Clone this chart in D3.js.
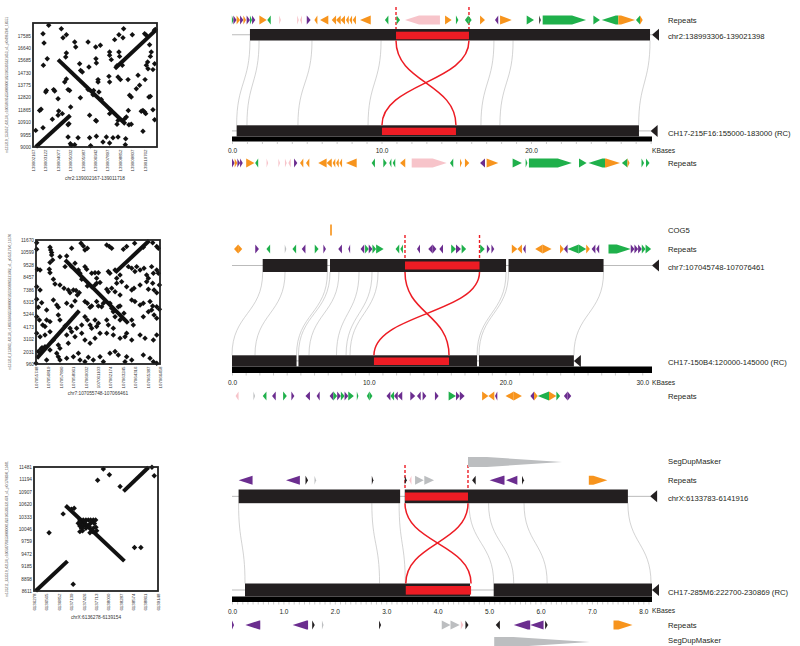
<!DOCTYPE html>
<html><head><meta charset="utf-8">
<script src="https://cdn.jsdelivr.net/npm/d3@7"></script>
<style>body{margin:0;background:#fff}svg{display:block}text{font-family:Arial,"Liberation Sans",sans-serif}</style>
</head><body>
<script>
// ---------------- DOT PLOT DATA ----------------
// plot 1 offsets in kb from axis start; plots 2,3 offsets in bp
const dp1XTicks=[139002167,139003122,139004077,139005032,139005987,139006942,139007897,139008852,139009807,139010762];
const dp1YTicks=[9000,9955,10910,11865,12820,13775,14730,15685,16640,17585];
const dp1Diag=[[0.21,0,2.88,2.44],[1.93,6.73,7.14,1.75],[6.29,6.03,9.50,9.04]];
const dp1Dots=[[1.21,9.37],[2.18,9.11],[0.77,8.73],[2.31,8.42],[2.57,8.65],[0.85,8.01],[3.21,8.09],[4.24,8.09],[3.29,7.70],[4.83,7.70],
[5.19,7.83],[5.90,7.32],[6.62,8.65],[6.29,8.27],[6.93,8.42],[6.98,9.11],[7.65,8.65],[8.60,8.73],[8.73,8.60],[8.98,7.88],
[9.11,7.32],[9.04,6.98],[9.24,5.96],[9.37,6.42],[8.83,6.55],[8.73,6.29],[8.86,6.03],[1.10,6.80],[0.80,6.29],[2.57,7.24],
[2.52,6.93],[3.59,6.42],[3.67,5.90],[3.80,5.78],[4.31,6.16],[4.85,6.80],[4.88,6.47],[5.90,7.06],[6.03,6.73],[6.62,7.32],
[6.67,6.98],[6.47,6.26],[6.88,6.29],[6.55,5.39],[6.73,5.19],[7.32,5.19],[8.09,5.52],[8.63,5.19],[8.21,4.75],[7.96,4.49],
[7.44,3.98],[7.57,3.85],[5.85,5.44],[5.90,5.01],[5.01,5.19],[5.01,5.01],[4.24,4.42],[4.67,4.36],[5.08,4.24],[4.62,4.03],
[5.26,3.65],[3.65,3.80],[2.70,4.42],[2.82,4.36],[2.44,5.01],[2.57,5.24],[1.93,3.72],[1.03,4.36],[0.98,4.24],[1.59,4.42],
[1.67,4.31],[0.62,2.90],[0.51,2.82],[1.49,2.13],[1.98,2.77],[1.93,2.44],[2.26,2.57],[2.90,3.08],[2.77,1.80],[2.70,1.72],
[4.36,2.44],[4.83,2.05],[4.88,2.00],[5.96,2.87],[5.90,2.57],[6.47,1.75],[6.55,2.05],[7.34,2.82],[7.19,2.31],[7.06,2.18],
[7.39,1.72],[8.47,2.82],[8.60,2.70],[8.68,2.57],[8.34,2.75],[8.93,3.85],[9.04,3.90],[9.24,2.87],[9.37,2.10],[8.47,1.21],
[0.77,1.49],[0.21,1.28],[2.70,0.77],[2.88,0.26],[3.21,0.18],[2.95,0.13],[3.47,0.72],[4.36,0.72],[4.44,0.10],[4.88,0.82],
[5.39,0.39],[5.65,0.77],[5.90,0.31],[6.16,0.72],[6.55,0.77],[7.14,0.64],[7.11,0.18],[7.57,1.75],[9.35,9.0],[9.42,9.05]];

const dp2XTicks=[107055748,107056819,107057890,107058961,107060032,107061103,107062174,107063245,107064316,107065387,107066458];
const dp2YTicks=[960,2031,3102,4173,5244,6315,7386,8457,9528,10599,11670];
const dp2Diag=[[60,490,3740,4610],[2510,8990,7980,3510],[6830,7890,9790,10660]];
const dp2Dots=[[60,9910],[60,10480],[1210,10080],[1270,9850],[1350,9620],[1350,9420],[1440,8990],[1210,8760],[2070,9270],[2650,9330],
[3080,9990],[3890,10430],[4090,10200],[4440,9990],[4230,9850],[6110,10280],[6340,10140],[6540,9990],[7550,9910],[7830,10140],
[8520,10430],[9270,10080],[10080,10480],[10430,10140],[10570,9990],
[120,8180],[350,8120],[1150,8180],[1210,7890],[1500,7320],[1640,6910],[2510,8410],[3080,8410],[3370,8700],[3660,8120],
[3800,7830],[3950,7320],[4230,8410],[4380,8180],[4810,7830],[5100,7890],[5390,7890],[5240,7400],[5530,7030],[6250,7980],
[6390,7830],[6830,8120],[6970,7400],[6970,6970],[7260,7690],[7400,7110],[7980,8410],[8270,8270],[8550,7980],[8700,8410],
[8990,8120],[9330,8270],[9560,7690],[9710,7400],[9990,8410],[10140,7830],[10430,8120],[10570,7830],
[60,6680],[350,6390],[2070,6830],[2420,6540],[2790,6390],[2940,6160],[3230,6390],[3460,6340],[3570,5960],[3740,6160],
[4440,6740],[4810,6680],[5100,6830],[5240,6970],[6110,6450],[6250,6250],[6540,6540],[6830,6250],[7260,5960],[7830,6680],
[8270,6390],[8470,6540],[8990,6830],[9560,7110],[9710,6450],[10080,6970],[10200,6390],[10430,6160],[10660,6830],
[60,5590],[200,4900],[490,5300],[920,4670],[1500,5530],[1790,5100],[1930,4900],[2650,5240],[3080,5010],[3370,5440],
[4230,5390],[4440,5240],[4670,4900],[4810,5010],[5240,5390],[5390,5010],[5670,4950],[5820,5240],[6390,5240],[6540,4810],
[6680,4520],[7110,4950],[7260,5010],[8270,5530],[8550,5390],[8990,5100],[9270,5240],[9850,5390],[10080,5010],[10430,4950],[10660,4720],
[60,4090],[290,3800],[580,3370],[920,3800],[780,3230],[1210,3660],[1930,4230],[2070,3800],[2510,3280],[2940,3080],
[3080,2790],[3510,3080],[3950,3370],[4230,4090],[4440,3800],[4670,3370],[4810,3080],[5100,3800],[5240,3230],[5390,3510],
[6110,3800],[6250,3370],[6680,3080],[6830,4090],[7260,3800],[7600,4380],[8270,3800],[8410,3370],[9270,4090],[9710,4520],
[9990,4670],[10200,4230],[10430,3950],
[60,2650],[350,2360],[780,2510],[1210,2790],[1500,2070],[1930,1640],[2070,1350],[2650,2510],[2790,1790],[3370,2360],
[3950,2650],[4230,2070],[4670,1790],[5100,2220],[5530,2650],[6110,2650],[6680,2510],[7260,2220],[7690,2360],[7830,2650],
[8270,2070],[8990,2510],[9420,2220],[10140,2070],[10430,2510],
[200,1070],[780,1500],[1210,1210],[1790,920],[1930,630],[2070,350],[2650,490],[3230,630],[3660,920],[3800,350],
[4230,200],[4520,580],[4950,350],[5530,630],[5820,200],[6390,920],[6830,1070],[7110,780],[7690,200],[7830,630],
[8270,350],[9270,780],[9850,490],[10140,200],[10430,60],[920,350],[0,60],[430,1300],[520,1400],[560,1350]];

const dp3XTicks=[6136278,6136565,6136852,6137139,6137426,6137713,6138000,6138287,6138574,6138861,6139148];
const dp3YTicks=[8611,8898,9185,9472,9759,10046,10333,10620,10907,11194,11481];
const dp3Diag=[[39,0,777,691],[730,1980,2098,691],[2075,2305,2657,2865]];
const dp3Dots=[[1608,2825],[1748,2693],[1476,2561],[1997,2421],[870,1893],[932,1917],[676,1785],[350,1350],[909,155],[2331,1009],[2479,1009],[2735,2863],[2789,2669],
[1064,1645],[1103,1568],[1142,1645],[1204,1645],[1259,1645],[1313,1645],[1375,1645],[1430,1645],[1064,1505],[1142,1505],[1220,1529],[1298,1552],
[1064,1374],[1127,1397],[1204,1451],[1282,1490],[1375,1451],[1437,1474],[1453,1397],[1360,1374],[1298,1350],[1103,1451],[1026,1568],[1064,1590],[1180,1600],[1340,1600],[1400,1560]];

// ---------------- TRACK DATA (kb) ----------------
const p1TopSeg=[[1.20,27.96]], p1BotSeg=[[0.31,27.22]];
const p1TopInv=[10.97,15.85], p1BotInv=[10.03,14.98];
const p1Links=[[1.20,0.31],[1.81,1.00],[5.35,4.41],[9.97,9.10],[17.52,16.65],[18.80,17.92],[27.96,27.20]];
const p1TopRep=[[0.00,0.09,1,'G'],[0.09,0.31,1,'P'],[0.31,0.54,1,'O'],[0.54,0.76,1,'P'],[0.76,0.94,1,'O'],[0.98,1.20,1,'P'],[1.20,1.34,1,'G'],[1.34,1.56,1,'P'],[1.83,2.32,1,'O'],[2.36,2.59,-1,'G'],[3.17,3.26,1,'K'],[4.37,4.46,1,'K'],[4.55,4.68,-1,'K'],[5.00,5.26,1,'P'],[5.51,5.71,-1,'O'],[5.89,6.44,-1,'O'],[6.67,6.96,-1,'O'],[6.96,7.27,-1,'O'],[7.27,7.56,-1,'O'],[7.62,7.81,-1,'O'],[7.85,8.03,-1,'O'],[8.07,8.29,-1,'O'],[8.56,9.28,-1,'O'],[10.23,10.46,-1,'G'],[11.01,11.24,1,'G'],[11.57,13.91,-1,'K'],[14.25,14.69,1,'O'],[14.98,15.14,1,'G'],[15.58,15.81,-1,'G'],[15.81,16.03,1,'G'],[16.59,16.92,1,'O'],[17.59,17.81,-1,'P'],[17.93,18.71,1,'O'],[19.71,20.20,1,'G'],[20.55,20.65,1,'B'],[20.78,23.68,1,'G'],[24.17,24.61,1,'G'],[24.73,25.84,-1,'G'],[25.84,26.96,1,'O'],[27.02,27.29,-1,'G'],[27.29,27.47,1,'O']];
const p1BotRep=[[0.00,0.18,1,'P'],[0.18,0.36,1,'O'],[0.36,0.54,1,'P'],[0.54,0.72,1,'P'],[0.95,1.50,1,'O'],[1.55,1.75,-1,'G'],[2.32,2.41,1,'K'],[3.10,3.21,1,'K'],[3.54,3.66,1,'K'],[3.77,3.93,-1,'K'],[4.15,4.37,1,'P'],[4.55,4.77,-1,'O'],[4.95,5.17,-1,'O'],[5.77,6.33,-1,'O'],[6.33,6.67,-1,'O'],[6.73,6.91,-1,'O'],[6.96,7.14,-1,'O'],[7.18,7.36,-1,'O'],[7.62,8.34,-1,'O'],[9.34,9.56,-1,'G'],[10.12,10.35,1,'G'],[10.52,10.66,-1,'G'],[10.75,10.92,-1,'G'],[11.24,11.59,-1,'O'],[12.02,14.36,1,'K'],[14.58,14.80,-1,'G'],[15.25,15.38,1,'O'],[15.58,15.87,1,'O'],[16.59,16.92,-1,'P'],[17.03,17.81,1,'O'],[18.77,19.39,1,'G'],[19.64,19.76,1,'G'],[19.86,22.73,1,'G'],[23.21,23.72,1,'G'],[23.84,24.95,-1,'G'],[24.95,25.95,1,'O'],[26.08,26.45,-1,'G'],[26.45,26.59,1,'O'],[27.39,27.56,1,'G'],[27.69,27.93,1,'G']];

const p2TopSeg=[[2.245,6.976],[7.166,20.04],[20.22,27.17]], p2BotSeg=[[0,4.72],[4.86,17.92],[18.06,25.0]];
const p2TopInv=[12.65,18.10], p2BotInv=[10.38,15.87];
const p2Links=[[2.245,0],[3.88,1.68],[6.976,4.72],[7.166,4.86],[7.82,5.63],[9.29,7.64],[10.24,8.34],[10.68,8.63],[20.04,17.92],[20.22,18.06],[27.17,25.0]];
const p2Genes=[[7.18,7.30,1,'O']];
const p2TopRep=[[0.15,0.45,-1,'O'],[0.45,0.75,1,'O'],[1.70,1.97,1,'P'],[2.52,2.79,-1,'G'],[3.88,3.95,1,'Y'],[4.42,4.69,-1,'G'],[5.10,5.37,-1,'P'],[6.05,6.33,1,'G'],[6.68,6.87,1,'P'],[7.77,8.04,-1,'P'],[8.50,8.64,-1,'P'],[9.40,9.67,-1,'P'],[9.73,10.00,1,'G'],[10.00,10.27,1,'P'],[10.27,10.54,1,'G'],[10.54,11.09,1,'G'],[11.96,12.23,-1,'G'],[12.31,12.50,-1,'G'],[13.53,13.75,-1,'P'],[14.35,14.67,-1,'P'],[14.67,14.95,1,'P'],[15.16,15.43,-1,'P'],[16.03,16.38,1,'G'],[16.38,16.74,1,'P'],[16.79,17.12,1,'G'],[18.15,18.48,1,'G'],[18.64,18.86,1,'P'],[18.97,19.18,1,'P'],[20.46,20.87,1,'O'],[20.87,21.20,-1,'O'],[21.28,21.47,-1,'P'],[22.17,22.72,-1,'O'],[22.72,23.37,1,'O'],[23.99,24.27,1,'O'],[24.27,24.54,-1,'P'],[24.54,25.35,-1,'G'],[25.35,25.90,1,'G'],[25.90,26.17,1,'O'],[26.30,26.57,-1,'P'],[26.63,26.85,-1,'P'],[27.53,29.16,1,'G'],[29.16,29.43,1,'P'],[29.43,29.70,1,'P'],[29.70,29.97,1,'P'],[29.97,30.24,1,'G'],[30.24,30.65,1,'G']];
const p2BotRep=[[0.26,0.48,-1,'K'],[1.57,1.68,1,'Y'],[2.25,2.52,-1,'G'],[2.93,3.20,-1,'P'],[3.74,4.01,1,'G'],[4.34,4.56,1,'P'],[5.37,5.70,-1,'P'],[6.19,6.41,-1,'P'],[7.14,7.41,-1,'P'],[7.41,7.69,1,'G'],[7.69,7.96,1,'P'],[7.96,8.23,1,'G'],[8.23,8.50,1,'P'],[8.50,8.91,1,'G'],[9.13,9.24,1,'G'],[9.86,10.05,-1,'G'],[10.05,10.27,1,'G'],[11.30,11.58,-1,'P'],[11.58,11.85,-1,'G'],[11.85,12.12,-1,'P'],[12.12,12.45,-1,'P'],[13.04,13.40,1,'P'],[13.53,13.80,-1,'P'],[13.94,14.21,1,'P'],[14.84,15.11,1,'P'],[15.84,16.38,1,'G'],[16.38,16.66,1,'P'],[16.66,17.01,1,'P'],[18.29,18.75,1,'O'],[18.75,19.18,-1,'O'],[19.23,19.40,-1,'P'],[20.00,20.60,-1,'O'],[20.60,21.20,1,'O'],[21.82,22.09,-1,'P'],[22.09,22.36,1,'O'],[22.36,23.18,-1,'G'],[23.18,23.72,1,'O'],[23.72,23.99,1,'G'],[24.27,24.54,-1,'P'],[24.54,24.81,1,'P']];

const p3TopSeg=[[0.128,3.27],[3.36,7.70]], p3BotSeg=[[0.253,4.63],[5.09,8.169]];
const p3TopInv=[3.365,4.59], p3BotInv=[3.38,4.65];
const p3Links=[[0.128,0.253],[2.72,2.87],[3.25,3.37],[4.61,5.09],[4.99,5.48],[5.68,6.13],[7.70,8.15]];
const p3TopDup=[[4.59,6.42,1,'Y']], p3BotDup=[[5.10,6.96,1,'Y']];
const p3TopRep=[[0.13,0.40,-1,'P'],[1.05,1.32,-1,'P'],[1.43,1.48,1,'B'],[1.61,1.63,1,'Y'],[2.72,2.75,1,'B'],[3.36,3.40,1,'B'],[3.45,3.49,-1,'K'],[3.56,3.73,1,'Y'],[3.74,3.93,1,'Y'],[4.67,4.74,-1,'B'],[5.01,5.30,-1,'P'],[5.33,5.55,-1,'P'],[5.64,5.68,1,'B'],[6.94,7.30,1,'O']];
const p3BotRep=[[0.00,0.04,1,'P'],[0.26,0.55,-1,'P'],[1.18,1.48,-1,'P'],[1.56,1.61,1,'B'],[1.75,1.78,1,'Y'],[2.86,2.90,1,'B'],[4.08,4.25,1,'Y'],[4.25,4.43,1,'Y'],[4.45,4.50,1,'K'],[4.54,4.60,1,'B'],[5.13,5.21,-1,'B'],[5.48,5.80,-1,'P'],[5.80,6.06,-1,'P'],[6.09,6.14,1,'B'],[7.42,7.79,1,'O']];

// ---------------- RENDER ----------------
const COL={O:'#F7941D',G:'#1FB04B',P:'#6B2D8F',K:'#F7C4CA',Y:'#BCBEC0',B:'#231F20'};
const TXT='#231F20', RED='#ED1C24';
const svg=d3.select('body').append('svg').attr('width',800).attr('height',646);
svg.append('rect').attr('width',800).attr('height',646).attr('fill','#fff');

function drawDot(c){
  const g=svg.append('g');
  const x=d3.scaleLinear().domain([0,c.xSpan]).range([c.x0,c.x1]);
  const y=d3.scaleLinear().domain([0,c.ySpan]).range([c.y1,c.y0]);
  g.selectAll('line.dg').data(c.diag).join('line')
    .attr('x1',d=>x(d[0])).attr('y1',d=>y(d[1])).attr('x2',d=>x(d[2])).attr('y2',d=>y(d[3]))
    .attr('stroke','#111').attr('stroke-width',4);
  g.selectAll('path.dt').data(c.dots).join('path')
    .attr('d',d3.symbol(d3.symbolSquare,15))
    .attr('transform',d=>`translate(${x(d[0])},${y(d[1])}) rotate(45)`).attr('fill','#111');
  g.append('rect').attr('x',c.x0).attr('y',c.y0).attr('width',c.x1-c.x0).attr('height',c.y1-c.y0)
    .attr('fill','none').attr('stroke','#222').attr('stroke-width',1.8);
  const ya=d3.axisLeft(y).tickValues(c.yTicks.map(v=>(v-c.yStart)/c.unit)).tickSize(0).tickPadding(2)
    .tickFormat((d,i)=>c.yTicks[i]);
  const yg=g.append('g').attr('transform',`translate(${c.x0},0)`).call(ya);
  yg.select('.domain').remove();
  yg.selectAll('text').attr('font-size',4.8).attr('fill','#333').attr('font-family','Arial');
  const xa=d3.axisBottom(x).tickValues(c.xTicks.map(v=>(v-c.xStart)/c.unit)).tickSize(0).tickFormat((d,i)=>c.xTicks[i]);
  const xg=g.append('g').attr('transform',`translate(0,${c.y1})`).call(xa);
  xg.select('.domain').remove();
  xg.selectAll('text').attr('font-size',4.4).attr('fill','#333').attr('font-family','Arial')
    .attr('transform','rotate(-90)').attr('text-anchor','end').attr('x',-2.5).attr('y',0).attr('dy','0.35em');
  g.append('text').attr('x',(c.x0+c.x1)/2).attr('y',c.xLabY).attr('text-anchor','middle')
    .attr('font-size',4.8).attr('fill','#333').text(c.xLabel);
  g.append('text').attr('transform',`translate(${c.yLabX},${(c.y0+c.y1)/2}) rotate(-90)`).attr('text-anchor','middle')
    .attr('font-size',3.3).attr('fill','#555').text(c.yLabel);
}

drawDot({x0:33,x1:157,y0:23,y1:147,xSpan:9.551,ySpan:9.551,unit:1000,xStart:139002167,yStart:9000,
  xTicks:dp1XTicks,yTicks:dp1YTicks,dots:dp1Dots,diag:dp1Diag,xLabel:'chr2:139002167-139011718',xLabY:180,yLabX:8,
  yLabel:'m131219_153657_42134_c100586952550000001823105305221453_s1_p0/49672/0_18551'});
drawDot({x0:36,x1:160,y0:240,y1:364,xSpan:10713,ySpan:10710,unit:1,xStart:107055748,yStart:960,
  xTicks:dp2XTicks,yTicks:dp2YTicks,dots:dp2Dots,diag:dp2Diag,xLabel:'chr7:107055748-107066461',xLabY:395,yLabX:11,
  yLabel:'m131214_213843_42134_c100593442550000001823108805221402_s1_p0/52176/0_11670'});
drawDot({x0:34,x1:158,y0:467,y1:591,xSpan:2876,ySpan:2870,unit:1,xStart:6136278,yStart:8611,
  xTicks:dp3XTicks,yTicks:dp3YTicks,dots:dp3Dots,diag:dp3Diag,xLabel:'chrX:6136278-6139154',xLabY:619,yLabX:8,
  yLabel:'m131211_233519_42134_c100587702550000001823105305221474_s1_p0/17483/0_11481'});

const lineGen=d3.line();
function arrowPts(x1,x2,yc,h,strand,head){
  let w=x2-x1; if(w<1.6){const m=(x1+x2)/2;x1=m-0.8;x2=m+0.8;w=1.6;}
  const hl=Math.min(w,head), t=yc-h/2, b=yc+h/2;
  return strand>0?[[x1,t],[x2-hl,t],[x2,yc],[x2-hl,b],[x1,b]]:[[x2,t],[x1+hl,t],[x1,yc],[x1+hl,b],[x2,b]];
}
function drawFeatures(g,x,data,yc,h,headFn){
  g.append('g').selectAll('path').data(data).join('path')
    .attr('d',d=>{const x1=x(d[0]),x2=x(d[1]);return lineGen(arrowPts(x1,x2,yc,h,d[2],headFn(x2-x1)))+'Z';})
    .attr('fill',d=>COL[d[3]]);
}
const link=d3.linkVertical().x(d=>d[0]).y(d=>d[1]);

function drawPanel(D,L){
  const x=d3.scaleLinear().domain([0,D.maxLen]).range([232,652]);
  const g=svg.append('g');
  g.append('g').selectAll('path').data(D.links).join('path')
    .attr('d',d=>link({source:[x(d[0]),L.topBar[1]],target:[x(d[1]),L.botBar[0]]}))
    .attr('fill','none').attr('stroke','#b5b5b5').attr('stroke-width',0.6);
  [[D.topLen,(L.topBar[0]+L.topBar[1])/2],[D.botLen,(L.botBar[0]+L.botBar[1])/2]].forEach(([len,c])=>{
    g.append('line').attr('x1',x(0)).attr('x2',x(len)).attr('y1',c).attr('y2',c).attr('stroke','#aaa').attr('stroke-width',0.8);
    g.append('path').attr('d',lineGen([[x(len),c],[x(len)+7,c-6],[x(len)+7,c+6]])+'Z').attr('fill',TXT);
  });
  g.append('rect').attr('x',x(0)).attr('width',x(D.maxLen)-x(0)).attr('y',L.axis[0]).attr('height',L.axis[1]-L.axis[0]).attr('fill','#000');
  const n=Math.floor(D.maxLen/D.minor+1e-6);
  const tv=d3.range(0,n+1).map(i=>+(i*D.minor).toFixed(3));
  const ax=d3.axisBottom(x).tickValues(tv).tickSize(2.5).tickPadding(L.tickPad)
    .tickFormat(d=>D.major.includes(d)?d.toFixed(1):'');
  const ag=g.append('g').attr('transform',`translate(0,${L.axis[1]})`).call(ax);
  ag.select('.domain').remove();
  ag.selectAll('line').attr('stroke','#999').attr('stroke-width',0.5);
  ag.selectAll('text').attr('font-size',6.5).attr('fill',TXT).attr('font-family','Arial');
  g.append('text').attr('x',652).attr('y',L.kbY).attr('font-size',6.7).attr('fill',TXT).text('KBases');
  g.append('g').selectAll('rect').data(D.topSegs).join('rect').attr('x',d=>x(d[0])).attr('width',d=>x(d[1])-x(d[0]))
    .attr('y',L.topBar[0]).attr('height',L.topBar[1]-L.topBar[0]).attr('fill',TXT);
  g.append('g').selectAll('rect').data(D.botSegs).join('rect').attr('x',d=>x(d[0])).attr('width',d=>x(d[1])-x(d[0]))
    .attr('y',L.botBar[0]).attr('height',L.botBar[1]-L.botBar[0]).attr('fill',TXT);
  g.append('rect').attr('x',x(D.topInv[0])).attr('width',x(D.topInv[1])-x(D.topInv[0])).attr('y',L.topRed[0]).attr('height',L.topRed[1]-L.topRed[0]).attr('fill',RED);
  g.append('rect').attr('x',x(D.botInv[0])).attr('width',x(D.botInv[1])-x(D.botInv[0])).attr('y',L.botRed[0]).attr('height',L.botRed[1]-L.botRed[0]).attr('fill',RED);
  g.append('g').selectAll('path').data([[D.topInv[0],D.botInv[1]],[D.topInv[1],D.botInv[0]]]).join('path')
    .attr('d',d=>link({source:[x(d[0]),L.topBar[1]],target:[x(d[1]),L.botBar[0]]}))
    .attr('fill','none').attr('stroke',RED).attr('stroke-width',1.5);
  g.append('g').selectAll('line').data(D.topInv).join('line').attr('x1',d=>x(d)).attr('x2',d=>x(d))
    .attr('y1',L.dash[0]).attr('y2',L.dash[1]).attr('stroke',RED).attr('stroke-width',1.4).attr('stroke-dasharray','3,2');
  drawFeatures(g,x,D.topRep,L.repTop,9,()=>14);
  drawFeatures(g,x,D.botRep,L.repBot,9,()=>14);
  if(D.topExtra) drawFeatures(g,x,D.topExtra,L.extraTop,L.extraH,w=>L.extraHead*w);
  if(D.botExtra) drawFeatures(g,x,D.botExtra,L.extraBot,L.extraH,w=>L.extraHead*w);
  g.append('g').selectAll('text').data(L.labels).join('text').attr('x',668).attr('y',d=>d[1])
    .attr('font-size',7.7).attr('fill',TXT).text(d=>d[0]);
}

drawPanel({maxLen:28.092,topLen:28.092,botLen:28.0,topSegs:p1TopSeg,botSegs:p1BotSeg,topInv:p1TopInv,botInv:p1BotInv,
  links:p1Links,topRep:p1TopRep,botRep:p1BotRep,major:[0,10,20],minor:1},
  {topBar:[29,40.5],topRed:[31.7,39.3],botBar:[125.3,136.5],botRed:[127.7,135],axis:[136.5,141.5],tickPad:4.2,kbY:153,
   dash:[7,29],repTop:20,repBot:163,
   labels:[['Repeats',22.8],['chr2:138993306-139021398',38.8],['CH17-215F16:155000-183000 (RC)',136],['Repeats',165.5]]});

drawPanel({maxLen:30.713,topLen:30.713,botLen:25.0,topSegs:p2TopSeg,botSegs:p2BotSeg,topInv:p2TopInv,botInv:p2BotInv,
  links:p2Links,topRep:p2TopRep,botRep:p2BotRep,topExtra:p2Genes,major:[0,10,20,30],minor:1},
  {topBar:[259,272],topRed:[261.5,269.5],botBar:[355.3,366.5],botRed:[357.5,365],axis:[366.5,373],tickPad:4.5,kbY:385,
   dash:[235,259],repTop:249,repBot:396,extraTop:230,extraH:11,extraHead:0,
   labels:[['COG5',232.8],['Repeats',251.8],['chr7:107045748-107076461',269.8],['CH17-150B4:120000-145000 (RC)',364.8],['Repeats',398.8]]});

drawPanel({maxLen:8.169,topLen:8.133,botLen:8.169,topSegs:p3TopSeg,botSegs:p3BotSeg,topInv:p3TopInv,botInv:p3BotInv,
  links:p3Links,topRep:p3TopRep,botRep:p3BotRep,topExtra:p3TopDup,botExtra:p3BotDup,major:[0,1,2,3,4,5,6,7,8],minor:0.1},
  {topBar:[489.5,503.2],topRed:[492.5,500.6],botBar:[583.5,596.5],botRed:[586,594.6],axis:[596.5,602],tickPad:4.5,kbY:612.7,
   dash:[465,489.5],repTop:480.2,repBot:625,extraTop:462,extraBot:642,extraH:10,extraHead:0.8,
   labels:[['SegDupMasker',464.4],['Repeats',483],['chrX:6133783-6141916',500.8],['CH17-285M6:222700-230869 (RC)',594.8],['Repeats',627.8],['SegDupMasker',643.3]]});
</script></body></html>
